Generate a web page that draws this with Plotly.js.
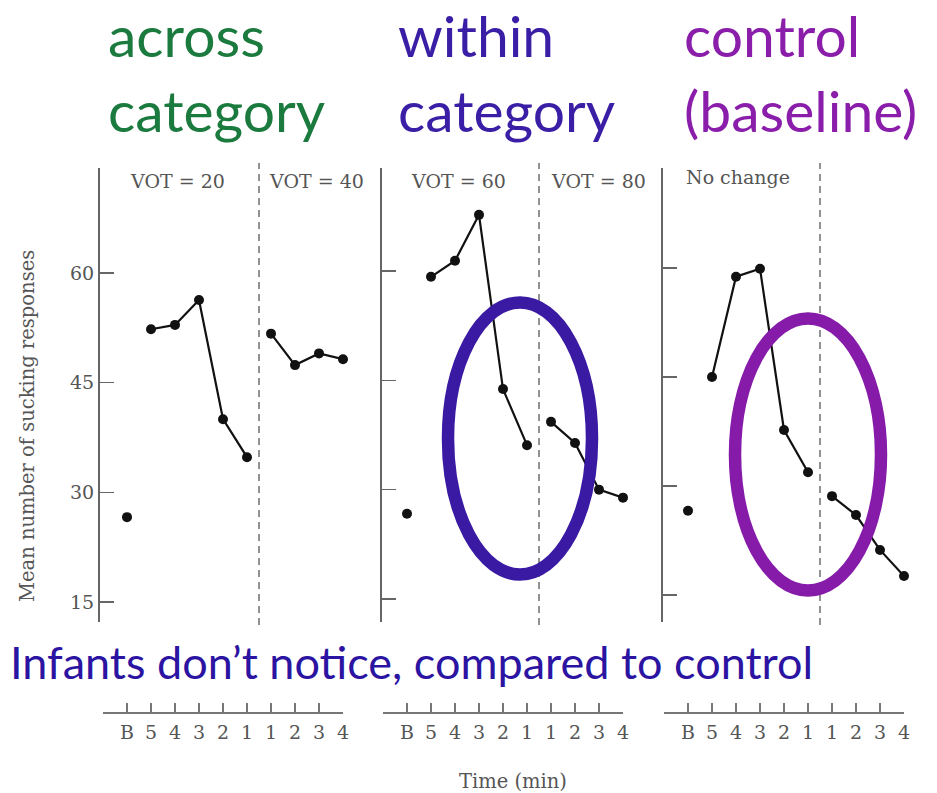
<!DOCTYPE html>
<html>
<head>
<meta charset="utf-8">
<script src="https://cdn.plot.ly/plotly-3.0.1.min.js"></script>
<style>html,body{margin:0;padding:0;background:#fff;}#chart{width:937px;height:793px;}</style>
</head>
<body>
<div id="chart"></div>
<script>
// ---- data ----
const timeLabels = ['B', '5', '4', '3', '2', '1', '1', '2', '3', '4'];
const yTicks = [15, 30, 45, 60];
const panelHeaders = [['VOT = 20', 'VOT = 40'], ['VOT = 60', 'VOT = 80'], ['No change', '']];
const baseline = [26.6, 26.7, 26.6];
const preShift1 = [52.3, 52.9, 56.3, 40.0, 34.8];
const postShift1 = [51.7, 47.4, 49.0, 48.2];
const preShift2 = [59.2, 61.4, 67.7, 43.8, 36.1];
const postShift2 = [39.3, 36.4, 30.0, 28.9];
const preShift3 = [45.0, 58.8, 59.9, 37.7, 31.9];
const postShift3 = [28.6, 26.0, 21.2, 17.6];
const groupTitles = [['across', 'category'], ['within', 'category'], ['control', '(baseline)']];
const groupColors = ['#1b7a3e', '#3a1ea5', '#8a1eaa'];
const noteText = 'Infants don’t notice, compared to control';

// ---- layout helpers ----
const W = 937, H = 793;
const px = x => x / W;
const py = y => 1 - y / H;

const pre = [preShift1, preShift2, preShift3];
const post = [postShift1, postShift2, postShift3];
const idx = timeLabels.map((_, i) => i);
const preIdx = idx.slice(1, 6);
const postIdx = idx.slice(6);

const traces = [];
for (let k = 0; k < 3; k++) {
  const xa = 'x' + (k ? k + 1 : '');
  const ya = 'y' + (k ? k + 1 : '');
  const common = {xaxis: xa, yaxis: ya, cliponaxis: false, showlegend: false, hoverinfo: 'skip',
    marker: {color: '#111', size: 10}, line: {color: '#111', width: 2.2}};
  traces.push(Object.assign({type: 'scatter', mode: 'markers', x: [idx[0]], y: [baseline[k]]}, common));
  traces.push(Object.assign({type: 'scatter', mode: 'lines+markers', x: preIdx, y: pre[k]}, common));
  traces.push(Object.assign({type: 'scatter', mode: 'lines+markers', x: postIdx, y: post[k]}, common));
}

const serif = 'DejaVu Serif';
const gray = '#555';
const xDomains = [[103, 343], [383, 623], [664, 904]];
const yPositions = [98, 380, 661];
const yRanges = [[12.26, 74.36], [11.84, 74.13], [11.28, 73.76]];
const yDomain = [py(622), py(168)];

const layout = {
  width: W, height: H, autosize: false,
  margin: {l: 0, r: 0, t: 0, b: 0},
  paper_bgcolor: '#fff', plot_bgcolor: 'rgba(0,0,0,0)',
  font: {family: serif, color: gray},
  shapes: [], annotations: []
};

for (let k = 0; k < 3; k++) {
  const s = k ? k + 1 : '';
  layout['xaxis' + s] = {
    domain: [px(xDomains[k][0]), px(xDomains[k][1])], range: [-1, 9],
    anchor: 'free', position: py(712),
    showline: true, linecolor: '#777', linewidth: 1.5,
    ticks: 'inside', ticklen: 9, tickwidth: 1.2, tickcolor: '#777',
    tickmode: 'array', tickvals: [-1].concat(idx), ticktext: [''].concat(timeLabels),
    tickfont: {family: serif, size: 19, color: gray}, ticklabelstandoff: 3,
    showgrid: false, zeroline: false, fixedrange: true
  };
  layout['yaxis' + s] = {
    domain: yDomain, range: yRanges[k],
    anchor: 'free', position: px(yPositions[k]),
    showline: true, linecolor: '#666', linewidth: 1.5,
    ticks: 'inside', ticklen: 14, tickwidth: 1.3, tickcolor: '#666',
    tickmode: 'array', tickvals: yTicks, showticklabels: k === 0,
    tickfont: {family: serif, size: 19, color: gray},
    showgrid: false, zeroline: false, fixedrange: true
  };
  // dashed shift line
  layout.shapes.push({type: 'line', xref: 'x' + s, x0: 5.5, x1: 5.5, yref: 'paper', y0: py(625), y1: py(163),
    line: {color: '#777', width: 1.6, dash: '7px,5px'}});
  // panel headers
  const hx = [[177, 316], [458, 598], [738, null]][k];
  panelHeaders[k].forEach((t, j) => {
    if (!t) return;
    layout.annotations.push({xref: 'paper', yref: 'paper', x: px(hx[j]), y: py(k === 2 ? 177 : 181),
      text: t, showarrow: false, xanchor: 'center', yanchor: 'middle',
      font: {family: serif, size: 19, color: gray}});
  });
  // group titles
  const tx = [106, 396, 682][k];
  groupTitles[k].forEach((t, j) => {
    layout.annotations.push({xref: 'paper', yref: 'paper', x: px(tx), y: py(j ? 110 : 35),
      text: t, showarrow: false, xanchor: 'left', yanchor: 'middle',
      font: {family: 'Lato', size: 57, color: groupColors[k]}});
  });
}

// ellipses
layout.shapes.push({type: 'circle', xref: 'paper', yref: 'paper',
  x0: px(520 - 72), x1: px(520 + 72), y0: py(438.5 + 136), y1: py(438.5 - 136),
  line: {color: '#3a1aa3', width: 12.5}});
layout.shapes.push({type: 'circle', xref: 'paper', yref: 'paper',
  x0: px(808 - 73), x1: px(808 + 73), y0: py(454.5 + 136), y1: py(454.5 - 136),
  line: {color: '#861aa9', width: 12.5}});

layout.annotations.push({xref: 'paper', yref: 'paper', x: px(27), y: py(426), textangle: -90,
  text: 'Mean number of sucking responses', showarrow: false, xanchor: 'center', yanchor: 'middle',
  font: {family: serif, size: 19.5, color: gray}});
layout.annotations.push({xref: 'paper', yref: 'paper', x: px(513), y: py(781),
  text: 'Time (min)', showarrow: false, xanchor: 'center', yanchor: 'middle',
  font: {family: serif, size: 19.5, color: gray}});
layout.annotations.push({xref: 'paper', yref: 'paper', x: px(8), y: py(662),
  text: noteText, showarrow: false, xanchor: 'left', yanchor: 'middle',
  font: {family: 'Lato', size: 45, color: '#2c14a2'}});

Plotly.newPlot('chart', traces, layout, {staticPlot: true, displayModeBar: false});
</script>
</body>
</html>
